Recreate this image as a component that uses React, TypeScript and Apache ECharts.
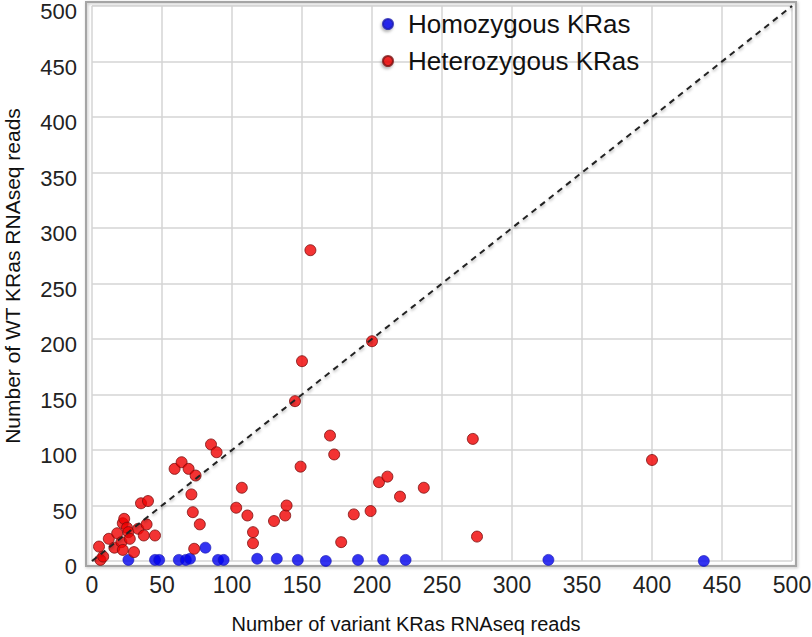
import React, { useEffect, useRef } from "react";
import * as echarts from "echarts";

const homoX = [26, 45, 48, 62, 67, 70, 81, 90, 94, 118, 132, 147, 167, 190, 208, 224, 326, 437];
const homoY = [1, 1, 1, 1, 1, 2, 12, 1, 1, 2, 2, 1, 0, 1, 1, 1, 1, 0];

const heteroX = [
  5, 6, 8, 12, 16, 18, 21, 22, 22, 23, 25, 26, 30, 33, 37, 39, 35, 40, 45, 27,
  59, 64, 69, 74, 85, 89, 71, 72, 77, 73, 107, 103, 111, 115, 115, 130, 138, 139,
  145, 150, 156, 200, 149, 170, 173, 178, 187, 199, 205, 211, 220, 237, 272, 275, 400,
];
const heteroY = [
  13, 1, 4, 20, 12, 25, 17, 10, 34, 38, 30, 26, 8, 29, 23, 33, 52, 54, 23, 20,
  83, 89, 83, 77, 105, 98, 60, 44, 33, 11, 66, 48, 41, 26, 16, 36, 41, 50,
  144, 180, 280, 198, 85, 113, 96, 17, 42, 45, 71, 76, 58, 66, 110, 22, 91,
];

const diagonal = [[0, 0], [500, 500]];
const axisTicks = { min: 0, max: 500, interval: 50 };
const seriesNames = ["Homozygous KRas", "Heterozygous KRas"];
const xTitle = "Number of variant KRas RNAseq reads";
const yTitle = "Number of WT KRas RNAseq reads";

const FONT = "Liberation Sans, Arial, sans-serif";

export default function App() {
  const ref = useRef<HTMLDivElement>(null);
  useEffect(() => {
    if (!ref.current) return;
    const chart = echarts.init(ref.current, null, { renderer: "svg" });
    const homo = homoX.map((x, i) => [x, homoY[i]]);
    const hetero = heteroX.map((x, i) => [x, heteroY[i]]);
    chart.setOption({
      animation: false,
      backgroundColor: "#ffffff",
      grid: { left: 92, right: 20, top: 6, bottom: 76, containLabel: false, outerBoundsMode: "none" },
      legend: {
        data: seriesNames,
        orient: "vertical",
        left: 382,
        top: 9,
        padding: 0,
        itemGap: 7,
        itemWidth: 30,
        itemHeight: 10,
        icon: "circle",
        itemStyle: { shadowColor: "rgba(0,0,0,0.35)", shadowBlur: 3, shadowOffsetX: -1, shadowOffsetY: 2 },
        textStyle: { fontFamily: FONT, fontSize: 26, color: "#111", lineHeight: 30 },
      },
      xAxis: {
        type: "value",
        min: axisTicks.min,
        max: axisTicks.max,
        interval: axisTicks.interval,
        name: xTitle,
        nameLocation: "middle",
        nameGap: 53,
        nameTextStyle: { fontFamily: FONT, fontSize: 20, color: "#111", padding: [0, 72, 0, 0] },
        axisLine: { show: false },
        axisTick: { show: false },
        axisLabel: { fontFamily: FONT, fontSize: 23, color: "#222", margin: 12 },
        splitLine: { show: true, lineStyle: { color: "#d4d4d4", width: 1.5 } },
      },
      yAxis: {
        type: "value",
        min: axisTicks.min,
        max: axisTicks.max,
        interval: axisTicks.interval,
        axisLine: { show: false },
        axisTick: { show: false },
        axisLabel: {
          margin: 15,
          formatter: (v: number) => `{a|${v}}`,
          rich: { a: { fontFamily: FONT, fontSize: 22, color: "#222", padding: [11, 0, 0, 0] } },
        },
        splitLine: { show: true, lineStyle: { color: "#d4d4d4", width: 1.5 } },
      },
      graphic: [
        {
          type: "rect",
          shape: { x: 86, y: 2, width: 710, height: 564 },
          style: {
            fill: "none",
            stroke: "#a5a5a5",
            lineWidth: 2,
            shadowColor: "rgba(0,0,0,0.25)",
            shadowBlur: 3,
            shadowOffsetX: 1,
            shadowOffsetY: 1,
          },
          z: 1,
          silent: true,
        },
        {
          type: "text",
          x: 12,
          y: 276,
          rotation: Math.PI / 2,
          style: {
            text: yTitle,
            font: `21px ${FONT}`,
            fill: "#111",
            align: "center",
            verticalAlign: "middle",
          },
          silent: true,
        },
      ],
      series: [
        {
          name: seriesNames[0],
          type: "scatter",
          data: homo,
          symbolSize: 11,
          itemStyle: { color: "#0000ee", borderColor: "#1a1ab0", borderWidth: 0.8 },
          z: 3,
        },
        {
          name: seriesNames[1],
          type: "scatter",
          data: hetero,
          symbolSize: 11,
          itemStyle: { color: "#f00000", borderColor: "#7a1010", borderWidth: 1 },
          z: 3,
        },
        {
          name: "diag",
          type: "line",
          data: diagonal,
          symbol: "none",
          silent: true,
          lineStyle: {
            color: "#222",
            width: 2,
            type: [6, 5],
            shadowColor: "rgba(0,0,0,0.3)",
            shadowBlur: 3,
            shadowOffsetY: 2,
          },
          z: 4,
        },
      ],
    });
    return () => chart.dispose();
  }, []);
  return (
    <div
      ref={ref}
      style={{ position: "fixed", left: 0, top: 0, width: 812, height: 637, background: "#fff" }}
    />
  );
}
